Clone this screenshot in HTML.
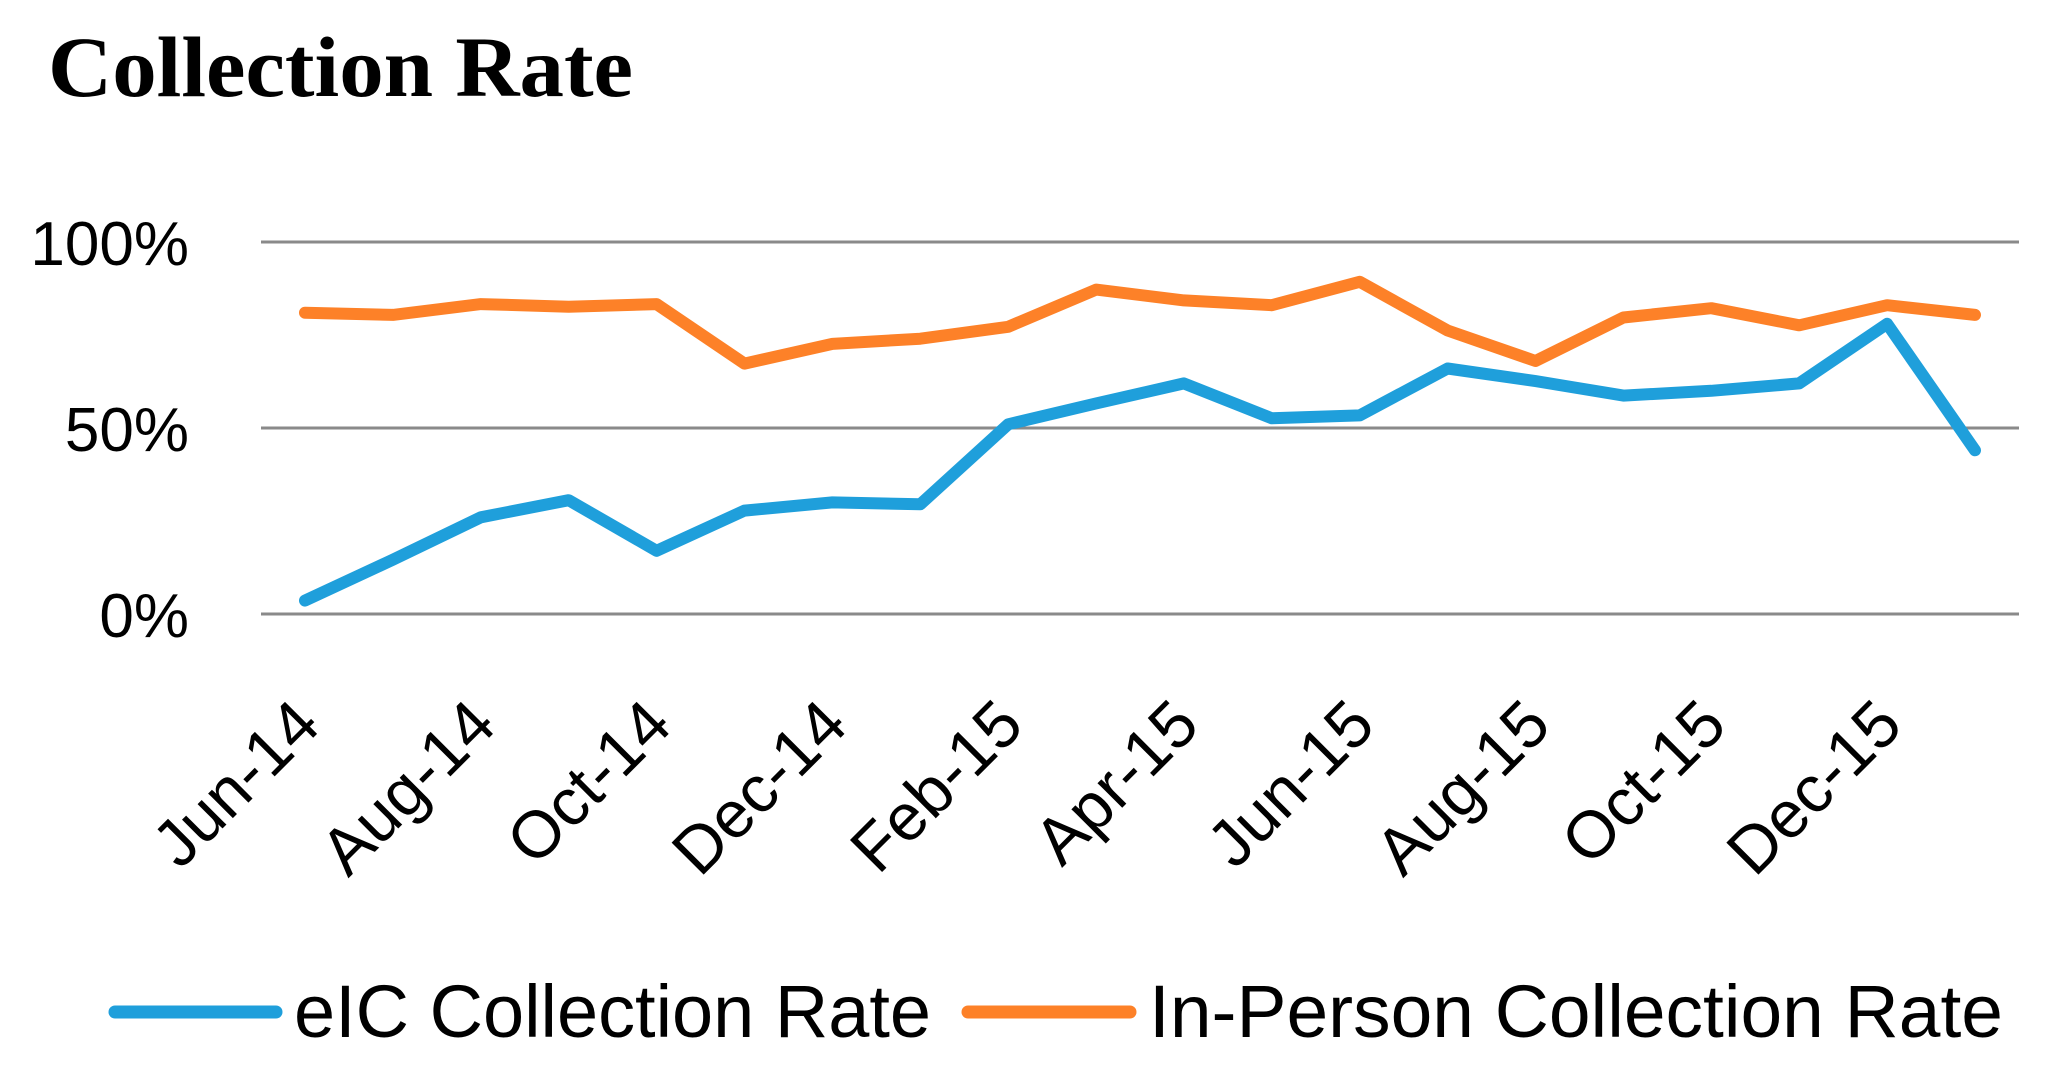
<!DOCTYPE html>
<html><head><meta charset="utf-8"><style>
html,body{margin:0;padding:0;background:#fff;}
svg{display:block;}
text{font-family:"Liberation Sans",sans-serif;fill:#000;}
</style></head><body>
<svg id="chart" width="2065" height="1077" viewBox="0 0 2065 1077" xmlns="http://www.w3.org/2000/svg">
<text x="48" y="96" style="font-family:'Liberation Serif',serif;font-weight:bold;font-size:86px;" textLength="585" lengthAdjust="spacingAndGlyphs">Collection Rate</text>
<g id="grid"></g><g id="ylabels"></g><g id="xlabels"></g><g id="series"></g>
<g>
<line x1="115" y1="1012" x2="276" y2="1012" stroke="#1f9fdb" stroke-width="13" stroke-linecap="round"/>
<text x="294" y="1037" font-size="74" textLength="637" lengthAdjust="spacingAndGlyphs">eIC Collection Rate</text>
<line x1="968" y1="1012" x2="1130" y2="1012" stroke="#fd8128" stroke-width="13" stroke-linecap="round"/>
<text x="1149" y="1037" font-size="74" textLength="854" lengthAdjust="spacingAndGlyphs">In-Person Collection Rate</text>
</g>
</svg>
<script>
const months = ["Jun-14","Jul-14","Aug-14","Sep-14","Oct-14","Nov-14","Dec-14","Jan-15","Feb-15","Mar-15","Apr-15","May-15","Jun-15","Jul-15","Aug-15","Sep-15","Oct-15","Nov-15","Dec-15","Jan-16"];
const eicValues = [3.6,14.6,26,30.6,17,27.8,30,29.5,51,56.6,62,52.6,53.4,66,62.6,58.7,60,62,78,44];
const inPersonValues = [81,80.4,83.3,82.6,83.3,67.3,72.6,74,77.2,87.2,84.3,83,89.3,76.2,68,79.7,82.2,77.6,83,80.4];
const yTicks = [0,50,100];
const yTickLabels = ["0%","50%","100%"];

const NS="http://www.w3.org/2000/svg";
const X0=305,X1=1975,Y0=614,Y100=242,PL=261,PR=2019;
const xScale=i=>X0+(X1-X0)*i/(months.length-1);
const yScale=v=>Y0+(Y100-Y0)*v/100;
function mk(tag,attrs,parent){const e=document.createElementNS(NS,tag);for(const k in attrs)e.setAttribute(k,attrs[k]);parent.appendChild(e);return e;}
const grid=document.getElementById('grid'),yl=document.getElementById('ylabels'),xl=document.getElementById('xlabels'),ser=document.getElementById('series');
yTicks.forEach((t,i)=>{
  const l=mk('line',{x1:PL,x2:PR,y1:yScale(t),y2:yScale(t),stroke:'#8a8a8a','stroke-width':3},grid);
  
  
  const tx=mk('text',{x:189,y:yScale(t)+23,'text-anchor':'end','font-size':62},yl);
  tx.textContent=yTickLabels[i];
  
  
});
months.forEach((m,i)=>{
  if(i%2) return;
  const x=xScale(i)+18,y=728;
  const tx=mk('text',{x:x,y:y,'text-anchor':'end','font-size':66,transform:`rotate(-45 ${x} ${y})`},xl);
  tx.textContent=m;
  
  
});
function line(vals,color,name){
  const d=vals.map((v,i)=>(i?'L':'M')+xScale(i).toFixed(1)+' '+yScale(v).toFixed(1)).join(' ');
  const p=mk('path',{d:d,fill:'none',stroke:color,'stroke-width':12,'stroke-linejoin':'round','stroke-linecap':'round'},ser);
  
  
}
line(inPersonValues,'#fd8128','inperson-collection-line');
line(eicValues,'#1f9fdb','eic-collection-line');
</script>
</body></html>
